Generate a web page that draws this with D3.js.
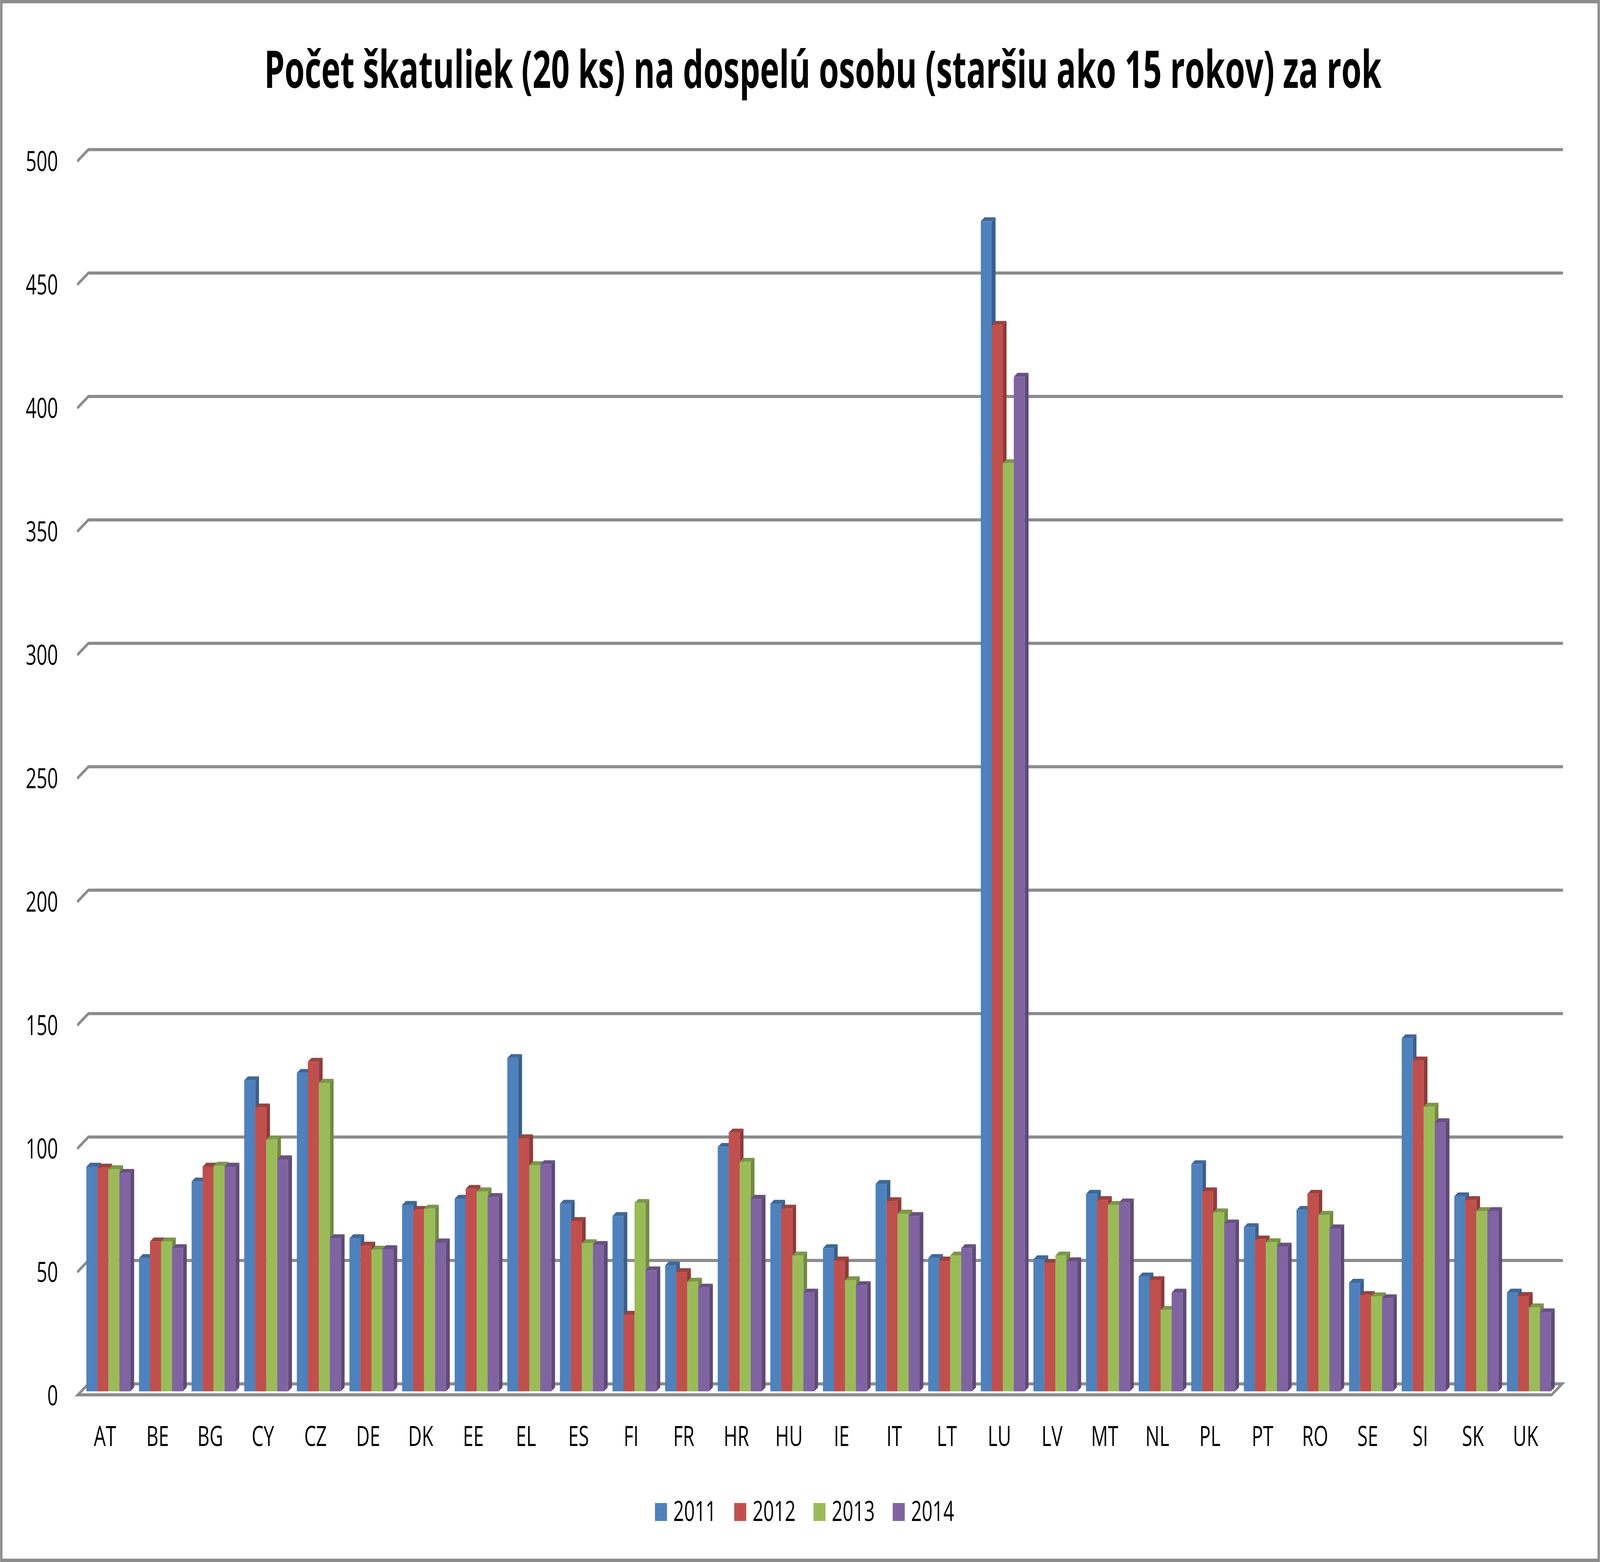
<!DOCTYPE html>
<html lang="sk">
<head>
<meta charset="UTF-8">
<title>Počet škatuliek</title>
<style>
  html, body { margin: 0; padding: 0; width: 100%; height: 100%; overflow: hidden; background: #fff; }
  svg { display: block; width: 100vw; height: 100vh; }
  text { font-family: "Open Sans", "Noto Sans", sans-serif; fill: #000; }
</style>
</head>
<body>
<script src="https://cdn.jsdelivr.net/npm/d3@7"></script>
<script>
var countries = ["AT","BE","BG","CY","CZ","DE","DK","EE","EL","ES","FI","FR","HR","HU","IE","IT","LT","LU","LV","MT","NL","PL","PT","RO","SE","SI","SK","UK"];
var years = ["2011","2012","2013","2014"];
var v2011 = [91, 54, 85, 126, 129, 62, 75.5, 78, 135, 76, 71, 51, 99, 76, 58, 84, 54, 474, 53.5, 80, 46.5, 92, 66.5, 73.5, 44, 143, 79, 40];
var v2012 = [90.6, 60.7, 91, 115, 133.5, 59, 73.5, 82, 102.5, 69, 31, 48.3, 104.8, 74, 53, 77, 53, 432, 52, 77.5, 45, 81, 61.5, 80, 39, 134, 77.5, 38.6];
var v2013 = [90, 60.7, 91.4, 102, 125, 57.4, 74, 81, 91.6, 60, 76.3, 44.4, 93, 55, 45, 72, 55, 376, 55, 75.5, 33, 72.5, 60.4, 71.5, 38.5, 115.3, 73, 34];
var v2014 = [88.5, 58, 91, 94, 62, 57.6, 60.3, 78.7, 92, 59.3, 49, 42, 78, 40, 43, 71, 58, 411, 52.7, 76.5, 40, 68, 58.6, 66, 37.7, 109, 73, 32];
var yTicks = [0, 50, 100, 150, 200, 250, 300, 350, 400, 450, 500];
var colors = ["#4F81BD", "#C0504D", "#9BBB59", "#8064A2"];
var title = "Počet škatuliek (20 ks) na dospelú osobu (staršiu ako 15 rokov) za rok";

var series = [v2011, v2012, v2013, v2014];

var width = 6117, height = 3999;
// 3D look: full depth of the floor shifts a point by (dx, dy)
var depthX = 40, depthY = -28;
var barFront = 0.32, barBack = 0.68;

// drawn in 6117x3999 units, stretched to whatever window the page gets
var svg = d3.select("body").append("svg")
  .attr("viewBox", "0 0 " + width + " " + height)
  .attr("preserveAspectRatio", "none");

svg.append("rect")
  .attr("x", 5).attr("y", 4)
  .attr("width", width - 10).attr("height", height - 8)
  .attr("fill", "#fff")
  .attr("stroke", "#8C8C8C")
  .attr("stroke-width", 9);

// scales on the front plane of the floor (depth 0)
var x0 = d3.scaleBand().domain(countries).range([301, 5933]).paddingInner(0.164).paddingOuter(0.082);
var x1 = d3.scaleBand().domain(years).range([0, x0.bandwidth()]);
var y = d3.scaleLinear().domain([0, 500]).range([3571, 411]);

function px(x, d) { return x + depthX * d; }
function py(v, d) { return y(v) + depthY * d; }

// gridlines on back wall, with the short diagonal on the left side
var grid = svg.append("g").attr("stroke", "#8C8C8C").attr("stroke-width", 8).attr("fill", "none").attr("stroke-linecap", "round");
yTicks.forEach(function(t) {
  if (t === 0) return;
  grid.append("path")
    .attr("d", "M" + px(298, 0) + "," + py(t, 0) + "L" + px(298, 1) + "," + py(t, 1) + "L" + px(5932, 1) + "," + py(t, 1));
});

// floor
grid.append("path")
  .attr("d", "M" + px(298, 0) + "," + py(0, 0) + "L" + px(298, 1) + "," + py(0, 1) +
    "L" + px(5932, 1) + "," + py(0, 1) + "L" + px(5932, 0) + "," + py(0, 0) + "Z")
  .attr("fill", "#fff");

// y labels
svg.append("g").selectAll("text")
  .data(yTicks)
  .enter().append("text")
  .attr("x", 222)
  .attr("y", function(d) { return py(d, 0) + 27; })
  .attr("text-anchor", "end")
  .attr("font-size", 72)
  .text(function(d) { return d; });

// bars
var bars = svg.append("g");
countries.forEach(function(c, i) {
  series.forEach(function(s, k) {
    var v = s[i];
    var xl = px(x0(c) + x1(years[k]), barFront);
    var w = x1.bandwidth();
    var yt = py(v, barFront), yb = py(0, barFront);
    var sx = depthX * (barBack - barFront), sy = depthY * (barBack - barFront);
    var col = d3.color(colors[k]);
    bars.append("path")
      .attr("d", "M" + (xl + w) + "," + yt + "L" + (xl + w + sx) + "," + (yt + sy) +
        "L" + (xl + w + sx) + "," + (yb + sy) + "L" + (xl + w) + "," + yb + "Z")
      .attr("fill", col.darker(0.85));
    bars.append("path")
      .attr("d", "M" + xl + "," + yt + "L" + (xl + sx) + "," + (yt + sy) +
        "L" + (xl + w + sx) + "," + (yt + sy) + "L" + (xl + w) + "," + yt + "Z")
      .attr("fill", col.darker(0.6));
    bars.append("rect")
      .attr("x", xl).attr("y", yt)
      .attr("width", w).attr("height", yb - yt)
      .attr("fill", colors[k]);
  });
});

// x labels
svg.append("g").selectAll("text")
  .data(countries)
  .enter().append("text")
  .attr("x", function(d) { return x0(d) + x0.bandwidth() / 2; })
  .attr("y", 3702)
  .attr("text-anchor", "middle")
  .attr("font-size", 72)
  .text(function(d) { return d; });

// title, fitted to the width of the original
var t = svg.append("text")
  .attr("text-anchor", "middle")
  .attr("font-size", 132)
  .attr("font-weight", "bold")
  .text(title);
var len = t.node().getComputedTextLength();
t.attr("transform", "translate(3146,225) scale(" + (4272 / len) + ",1)");

// legend
var legend = svg.append("g").selectAll("g")
  .data(years)
  .enter().append("g")
  .attr("transform", function(d, i) { return "translate(" + (2504 + i * 303) + ",3848)"; });
legend.append("rect")
  .attr("width", 46).attr("height", 46)
  .attr("fill", function(d, i) { return colors[i]; });
legend.append("text")
  .attr("x", 70).attr("y", 46)
  .attr("font-size", 72)
  .text(function(d) { return d; });
</script>
</body>
</html>
